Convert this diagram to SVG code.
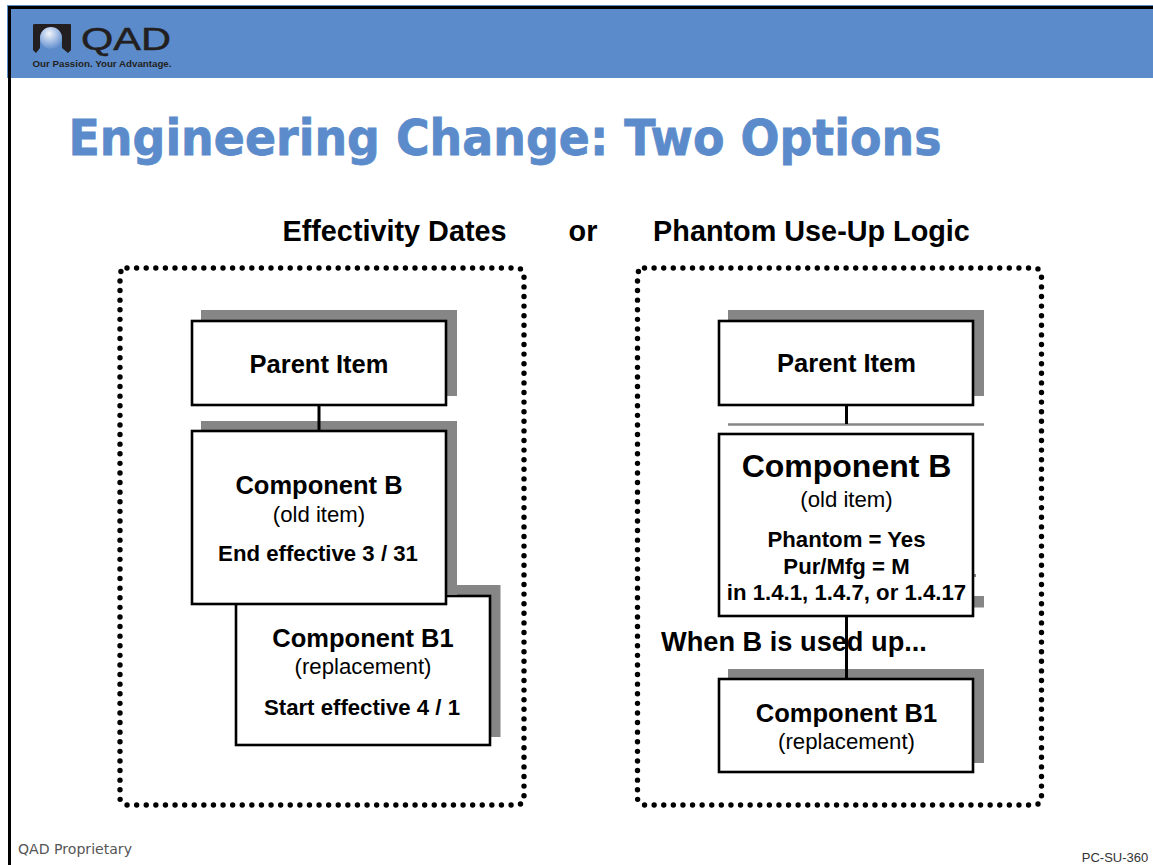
<svg xmlns="http://www.w3.org/2000/svg" width="1153" height="865" viewBox="0 0 1153 865">
<style>
.b{fill:#fff;stroke:#000;stroke-width:2.6}
.s{fill:#868686}
.dot{fill:none;stroke:#000;stroke-width:5.4;stroke-linecap:round;stroke-dasharray:0 9.6}
.c{stroke:#000;stroke-width:3;fill:none}
text{font-family:"Liberation Sans",Arial,sans-serif;fill:#000;text-anchor:middle}
.hd{font-weight:bold;font-size:28.800px}
.h{font-weight:bold;font-size:25.500px}
.l{font-weight:bold;font-size:22.200px}
.n{font-size:22.200px}
</style>
<defs><radialGradient id="g" cx="0.42" cy="0.3" r="0.75"><stop offset="0" stop-color="#f2f5fb"/><stop offset="0.55" stop-color="#9db9e2"/><stop offset="1" stop-color="#5b8bca"/></radialGradient></defs>
<rect width="1153" height="865" fill="#fff"/>
<g id="header">
<rect x="7" y="5" width="1146" height="73" fill="#5b8bca"/>
<rect x="8" y="6" width="1145" height="3" fill="#000"/>
<rect x="8" y="6" width="3" height="859" fill="#000"/>
<path d="M33 25Q33 24 35 24H70Q71 24 71 25V50L68 53L62 48V40Q62 28 50 28Q40 28 40 40V48L36 53L33 50Z" fill="#231f20"/>
<circle cx="51" cy="38" r="11" fill="url(#g)"/>
<text x="126" y="50" style="font-size:31px;fill:#231f20;stroke:#231f20;stroke-width:.5" textLength="90" lengthAdjust="spacingAndGlyphs">QAD</text>
<text x="102" y="67" style="font-size:9.500px;font-weight:bold;fill:#231f20" textLength="139" lengthAdjust="spacingAndGlyphs">Our Passion. Your Advantage.</text>
</g>
<text id="title" x="505" y="155" style="font-family:'DejaVu Sans',Verdana,sans-serif;font-weight:bold;font-size:49px;fill:#5b8bca;stroke:#5b8bca;stroke-width:.8" textLength="873" lengthAdjust="spacingAndGlyphs">Engineering Change: Two Options</text>
<g id="headings">
<text class="hd" x="394.500" y="241">Effectivity Dates</text>
<text class="hd" x="583" y="241">or</text>
<text class="hd" x="811.500" y="241">Phantom Use-Up Logic</text>
</g>
<g id="frame-left"><rect class="dot" x="120" y="268" width="404" height="537" rx="7"/></g>
<g id="frame-right"><rect class="dot" x="637.500" y="268" width="404" height="537" rx="7"/></g>
<g id="left-parent">
<rect class="s" x="201" y="310" width="256" height="86"/>
<rect class="b" x="192" y="321" width="254" height="84"/>
<text class="h" x="319" y="373">Parent Item</text>
</g>
<g id="left-component-b1">
<rect class="s" x="457" y="585" width="43.500" height="152"/>
<rect class="b" x="236" y="596" width="254" height="149"/>
<text class="h" x="363" y="647">Component B1</text>
<text class="n" x="363" y="674">(replacement)</text>
<text class="l" x="362" y="715">Start effective 4 / 1</text>
</g>
<g id="left-component-b">
<rect class="s" x="201" y="421" width="256" height="174"/>
<rect class="b" x="192" y="431" width="254" height="173"/>
<text class="h" x="319" y="494">Component B</text>
<text class="n" x="319" y="522">(old item)</text>
<text class="l" x="318" y="561">End effective 3 / 31</text>
</g>
<g id="right-parent">
<rect class="s" x="728" y="310" width="256" height="86"/>
<rect class="b" x="719" y="321" width="254" height="84"/>
<text class="h" x="846.500" y="372">Parent Item</text>
</g>
<g id="right-component-b1">
<rect class="s" x="728" y="669" width="256" height="94"/>
<rect class="b" x="719" y="679" width="254" height="93"/>
<text class="h" x="846.500" y="722">Component B1</text>
<text class="n" x="846.500" y="749">(replacement)</text>
</g>
<g id="right-component-b">
<rect class="s" x="973" y="596" width="11" height="11.500"/>
<rect class="s" x="974" y="574" width="2" height="3"/>
<rect class="b" x="719" y="434" width="254" height="182"/>
<text x="846.500" y="477" style="font-weight:bold;font-size:32px">Component B</text>
<text class="n" x="846.500" y="507">(old item)</text>
<text class="l" x="846.500" y="547">Phantom = Yes</text>
<text class="l" x="846.500" y="574">Pur/Mfg = M</text>
<text class="l" x="846.500" y="600">in 1.4.1, 1.4.7, or 1.4.17</text>
</g>
<g id="connectors">
<path d="M728 424.500H984" stroke="#868686" stroke-width="2.500" fill="none"/>
<path class="c" d="M319 405V431"/>
<path class="c" d="M846.500 405V424"/>
<path class="c" d="M846.500 616V679"/>
</g>
<text id="note" x="794" y="651" style="font-weight:bold;font-size:27.200px">When B is used up...</text>
<text id="footer-left" x="75" y="854" style="font-family:'DejaVu Sans',Verdana,sans-serif;font-size:14px;fill:#555" textLength="114" lengthAdjust="spacingAndGlyphs">QAD Proprietary</text>
<text id="footer-right" x="1115" y="862" style="font-size:13px;fill:#333">PC-SU-360</text>
</svg>
